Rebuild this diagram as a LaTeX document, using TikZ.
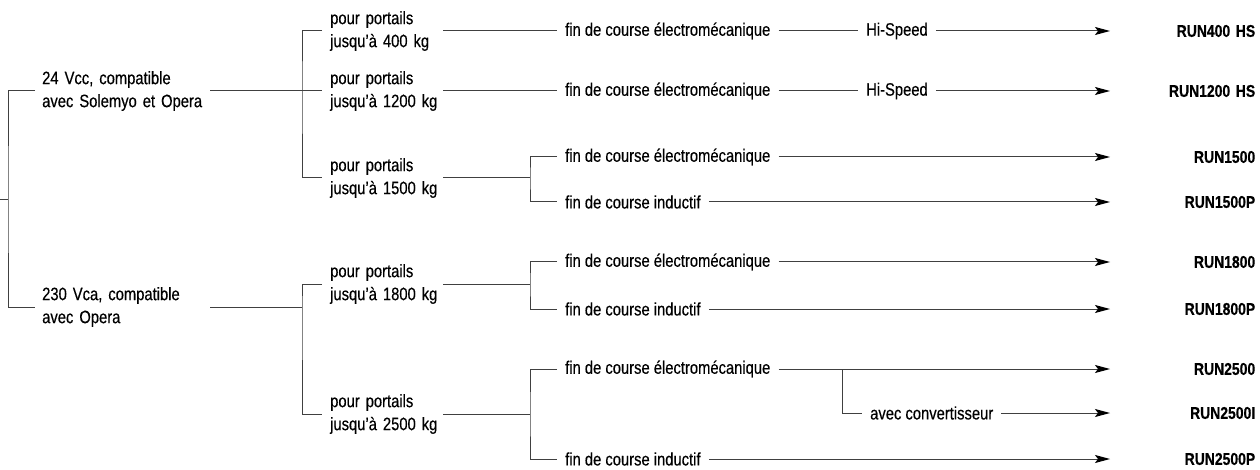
\documentclass[tikz,border=0pt]{standalone}
\usepackage{fontspec}
\setmainfont{Liberation Sans}[FakeStretch=0.82,FakeBold=0.4]
\usetikzlibrary{positioning,arrows.meta}

\begin{document}
\begin{tikzpicture}[x=1pt,y=-1pt,
  every node/.style={font=\fontsize{18}{23}\selectfont,inner ysep=0pt},
  link/.style={draw=black!75,line width=1pt},
  feed/.style={link,-{Stealth[length=15pt,width=8pt,inset=3pt,color=black]}},
  volt/.style={anchor=west,align=left,text width=161pt,inner xsep=7pt},
  load/.style={anchor=west,align=left,text width=105pt,inner xsep=8pt},
  opt/.style={anchor=west,inner xsep=8pt},
  model/.style={anchor=west,align=right,text width=145pt,inner xsep=0pt,
    font=\fontsize{17}{20}\selectfont\bfseries}]
  \useasboundingbox (0,0) rectangle (1260,470);

  % supply voltage
  \coordinate (root) at (0,200);
  \coordinate (b1) at (8,200);
  \node[volt] (v24) at (35,91) {\mbox{24 Vcc, compatible}\\\mbox{avec Solemyo et Opera}};
  \node[volt] (v230) at (35,307) {\mbox{230 Vca, compatible}\\\mbox{avec Opera}};
  \draw[link] (root) -- (b1);
  \draw[link] (v24.west) -| (b1) |- (v230.west);

  % gate weight
  \coordinate (j24) at (302,91);
  \coordinate (j230) at (302,307);
  \node[load] (p400) at (322,31) {\mbox{pour portails}\\\mbox{jusqu'à 400 kg}};
  \node[load] (p1200) at (322,91) {\mbox{pour portails}\\\mbox{jusqu'à 1200 kg}};
  \node[load] (p1500) at (322,178) {\mbox{pour portails}\\\mbox{jusqu'à 1500 kg}};
  \node[load] (p1800) at (322,284) {\mbox{pour portails}\\\mbox{jusqu'à 1800 kg}};
  \node[load] (p2500) at (322,414) {\mbox{pour portails}\\\mbox{jusqu'à 2500 kg}};
  \draw[link] (v24.east) -- (j24);
  \draw[link] (p400.west) -| (j24) |- (p1500.west);
  \draw[link] (j24) -- (p1200.west);
  \draw[link] (v230.east) -- (j230);
  \draw[link] (p1800.west) -| (j230) |- (p2500.west);

  % limit switch
  \coordinate (k1500) at (530,178);
  \coordinate (k1800) at (530,284);
  \coordinate (k2500) at (530,414);
  \node[opt] (e400) at (557,31) {fin de course électromécanique};
  \node[opt] (e1200) at (557,91) {fin de course électromécanique};
  \node[opt] (e1500) at (557,157) {fin de course électromécanique};
  \node[opt] (i1500) at (557,202) {fin de course inductif};
  \node[opt] (e1800) at (557,262) {fin de course électromécanique};
  \node[opt] (i1800) at (557,309) {fin de course inductif};
  \node[opt] (e2500) at (557,369) {fin de course électromécanique};
  \node[opt] (i2500) at (557,459) {fin de course inductif};
  \draw[link] (p400.east) -- (e400.west);
  \draw[link] (p1200.east) -- (e1200.west);
  \draw[link] (p1500.east) -- (k1500);
  \draw[link] (e1500.west) -| (k1500) |- (i1500.west);
  \draw[link] (p1800.east) -- (k1800);
  \draw[link] (e1800.west) -| (k1800) |- (i1800.west);
  \draw[link] (p2500.east) -- (k2500);
  \draw[link] (e2500.west) -| (k2500) |- (i2500.west);

  % extras
  \node[opt] (hs400) at (858,31) {Hi-Speed};
  \node[opt] (hs1200) at (858,91) {Hi-Speed};
  \coordinate (m2500) at (842,369);
  \node[opt] (conv) at (862,413) {avec convertisseur};
  \draw[link] (e400.east) -- (hs400.west);
  \draw[link] (e1200.east) -- (hs1200.west);
  \draw[link] (m2500) |- (conv.west);

  % models
  \foreach \nm/\y/\lbl in {r400/31/RUN400 HS, r1200/91/RUN1200 HS,
      r1500/157/RUN1500, r1500p/202/RUN1500P, r1800/262/RUN1800,
      r1800p/309/RUN1800P, r2500/369/RUN2500, r2500i/413/RUN2500I,
      r2500p/459/RUN2500P} {
    \node[model] (\nm) at (1110,\y) {\lbl};
  }
  \draw[feed] (hs400.east) -- (r400.west);
  \draw[feed] (hs1200.east) -- (r1200.west);
  \draw[feed] (e1500.east) -- (r1500.west);
  \draw[feed] (i1500.east) -- (r1500p.west);
  \draw[feed] (e1800.east) -- (r1800.west);
  \draw[feed] (i1800.east) -- (r1800p.west);
  \draw[feed] (e2500.east) -- (r2500.west);
  \draw[feed] (conv.east) -- (r2500i.west);
  \draw[feed] (i2500.east) -- (r2500p.west);
\end{tikzpicture}
\end{document}
